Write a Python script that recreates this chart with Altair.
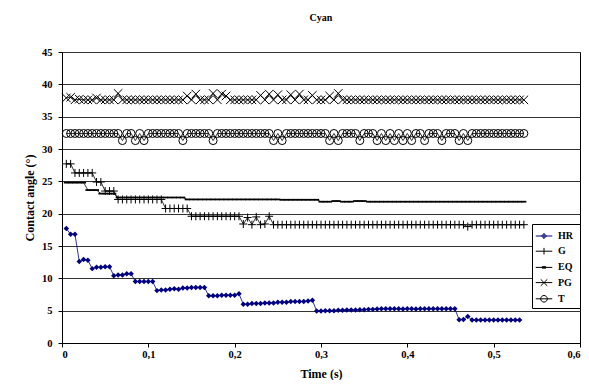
import altair as alt
import pandas as pd

SERIES = ["HR", "G", "EQ", "PG", "T"]

TIME = [
    0.005, 0.010, 0.015, 0.020, 0.025, 0.030, 0.035, 0.040, 0.045, 0.050,
    0.055, 0.060, 0.065, 0.070, 0.075, 0.080, 0.085, 0.090, 0.095, 0.100,
    0.105, 0.110, 0.115, 0.120, 0.125, 0.130, 0.135, 0.140, 0.145, 0.150,
    0.155, 0.160, 0.165, 0.170, 0.175, 0.180, 0.185, 0.190, 0.195, 0.200,
    0.205, 0.210, 0.215, 0.220, 0.225, 0.230, 0.235, 0.240, 0.245, 0.250,
    0.255, 0.260, 0.265, 0.270, 0.275, 0.280, 0.285, 0.290, 0.295, 0.300,
    0.305, 0.310, 0.315, 0.320, 0.325, 0.330, 0.335, 0.340, 0.345, 0.350,
    0.355, 0.360, 0.365, 0.370, 0.375, 0.380, 0.385, 0.390, 0.395, 0.400,
    0.405, 0.410, 0.415, 0.420, 0.425, 0.430, 0.435, 0.440, 0.445, 0.450,
    0.455, 0.460, 0.465, 0.470, 0.475, 0.480, 0.485, 0.490, 0.495, 0.500,
    0.505, 0.510, 0.515, 0.520, 0.525, 0.530, 0.535,
]

HR = [
    17.7, 16.8, 16.8, 12.6, 12.9, 12.8, 11.5, 11.7, 11.7, 11.8,
    11.8, 10.4, 10.5, 10.5, 10.7, 10.7, 9.5, 9.5, 9.5, 9.5,
    9.5, 8.1, 8.2, 8.2, 8.3, 8.4, 8.3, 8.5, 8.5, 8.6,
    8.6, 8.6, 8.6, 7.3, 7.3, 7.3, 7.4, 7.4, 7.4, 7.4,
    7.6, 6.0, 6.0, 6.1, 6.1, 6.1, 6.2, 6.2, 6.2, 6.3,
    6.3, 6.3, 6.4, 6.4, 6.4, 6.4, 6.5, 6.6, 4.95, 4.95,
    5.0, 5.0, 5.0, 5.05, 5.05, 5.1, 5.1, 5.1, 5.15, 5.15,
    5.2, 5.2, 5.25, 5.3, 5.3, 5.3, 5.3, 5.3, 5.25, 5.3,
    5.3, 5.25, 5.3, 5.3, 5.3, 5.3, 5.3, 5.3, 5.3, 5.3,
    5.3, 3.6, 3.65, 4.1, 3.55, 3.55, 3.55, 3.55, 3.55, 3.55,
    3.55, 3.55, 3.55, 3.55, 3.55, 3.55,
]

G = [
    27.7, 27.7, 26.3, 26.3, 26.3, 26.3, 26.3, 24.9, 24.9, 23.5,
    23.5, 23.5, 22.2, 22.2, 22.2, 22.2, 22.2, 22.2, 22.2, 22.2,
    22.2, 22.2, 22.2, 20.8, 20.8, 20.8, 20.8, 20.8, 20.8, 19.6,
    19.6, 19.6, 19.6, 19.6, 19.6, 19.6, 19.6, 19.6, 19.6, 19.6,
    19.6, 18.4, 19.4, 18.3, 19.5, 18.3, 18.4, 19.6, 18.3, 18.3,
    18.3, 18.3, 18.3, 18.3, 18.3, 18.3, 18.3, 18.3, 18.3, 18.3,
    18.3, 18.3, 18.3, 18.3, 18.3, 18.3, 18.3, 18.3, 18.3, 18.3,
    18.3, 18.3, 18.3, 18.3, 18.3, 18.3, 18.3, 18.3, 18.3, 18.3,
    18.3, 18.3, 18.3, 18.3, 18.3, 18.3, 18.3, 18.3, 18.3, 18.3,
    18.3, 18.3, 18.3, 18.0, 18.3, 18.3, 18.3, 18.3, 18.3, 18.3,
    18.3, 18.3, 18.3, 18.3, 18.3, 18.3, 18.3,
]

EQ = [
    24.8, 24.8, 24.8, 24.8, 24.8, 23.65, 23.65, 23.65, 23.1, 23.1,
    23.1, 23.1, 22.5, 22.5, 22.5, 22.5, 22.5, 22.5, 22.5, 22.5,
    22.5, 22.5, 22.5, 22.5, 22.5, 22.5, 22.5, 22.5, 22.2, 22.2,
    22.2, 22.2, 22.2, 22.2, 22.2, 22.2, 22.2, 22.2, 22.2, 22.2,
    22.2, 22.2, 22.2, 22.2, 22.2, 22.2, 22.2, 22.2, 22.2, 22.2,
    22.15, 22.15, 22.15, 22.15, 22.15, 22.15, 22.15, 22.15, 22.15, 21.85,
    21.85, 21.85, 21.95, 21.95, 21.85, 21.85, 21.85, 21.95, 21.95, 21.95,
    21.85, 21.85, 21.85, 21.85, 21.85, 21.85, 21.85, 21.85, 21.85, 21.85,
    21.85, 21.85, 21.85, 21.85, 21.85, 21.85, 21.85, 21.85, 21.85, 21.85,
    21.85, 21.85, 21.85, 21.85, 21.85, 21.85, 21.85, 21.85, 21.85, 21.85,
    21.85, 21.85, 21.85, 21.85, 21.85, 21.85, 21.85,
]

PG = [
    37.9, 38.0, 37.6, 37.7, 37.6, 37.6, 37.6, 37.9, 37.6, 37.6,
    37.6, 37.6, 38.6, 37.6, 37.6, 37.6, 37.6, 37.6, 37.6, 37.6,
    37.6, 37.6, 37.6, 37.6, 37.6, 37.6, 37.6, 37.6, 38.2, 37.6,
    38.5, 37.6, 37.6, 37.6, 38.6, 37.6, 38.5, 38.2, 37.6, 37.6,
    37.6, 37.6, 37.6, 37.6, 37.6, 38.3, 37.6, 38.5, 37.6, 38.4,
    37.6, 37.6, 38.4, 37.6, 38.5, 37.6, 37.6, 38.3, 37.6, 37.6,
    37.6, 38.2, 37.6, 38.6, 37.6, 37.6, 37.6, 37.6, 37.6, 37.6,
    37.6, 37.6, 37.6, 37.6, 37.6, 37.6, 37.6, 37.6, 37.6, 37.6,
    37.6, 37.6, 37.6, 37.6, 37.6, 37.6, 37.6, 37.6, 37.6, 37.6,
    37.6, 37.6, 37.6, 37.6, 37.6, 37.6, 37.6, 37.6, 37.6, 37.6,
    37.6, 37.6, 37.6, 37.6, 37.6, 37.6, 37.6,
]

T = [
    32.4, 32.4, 32.4, 32.4, 32.4, 32.4, 32.4, 32.4, 32.4, 32.4,
    32.4, 32.4, 32.4, 31.3, 32.4, 32.4, 31.3, 32.4, 31.3, 32.4,
    32.4, 32.4, 32.4, 32.4, 32.4, 32.4, 32.4, 31.3, 32.4, 32.4,
    32.4, 32.4, 32.4, 32.4, 31.3, 32.4, 32.4, 32.4, 32.4, 32.4,
    32.4, 32.4, 32.4, 32.4, 32.4, 32.4, 32.4, 32.4, 31.3, 32.4,
    31.3, 32.4, 32.4, 32.4, 32.4, 32.4, 32.4, 32.4, 32.4, 32.4,
    32.4, 31.3, 32.4, 31.3, 32.4, 32.4, 32.4, 32.4, 31.3, 32.4,
    32.4, 32.4, 31.3, 32.4, 31.3, 32.4, 31.3, 32.4, 31.3, 32.4,
    31.3, 32.4, 32.4, 31.3, 32.4, 32.4, 32.4, 31.3, 32.4, 32.4,
    32.4, 31.3, 32.4, 31.3, 32.4, 32.4, 32.4, 32.4, 32.4, 32.4,
    32.4, 32.4, 32.4, 32.4, 32.4, 32.4, 32.4,
]

X_TICKS = [0, 0.1, 0.2, 0.3, 0.4, 0.5, 0.6]
Y_TICKS = [0, 5, 10, 15, 20, 25, 30, 35, 40, 45]

NAVY = "#000080"
LINE_COLORS = [NAVY, "black", "black", "black", "black"]

MARKERS = {
    "HR": dict(shape="diamond", size=30, filled=True, color=NAVY, strokeWidth=0),
    "G": dict(shape="M-1,0L1,0M0,-1L0,1", size=64, filled=False, color="black", strokeWidth=1),
    "EQ": dict(shape="M-1,-0.35L1,-0.35L1,0.35L-1,0.35Z", size=25, filled=True, color="black", strokeWidth=0),
    "PG": dict(shape="M-1,-1L1,1M-1,1L1,-1", size=72, filled=False, color="black", strokeWidth=1),
    "T": dict(shape="circle", size=64, filled=False, color="black", strokeWidth=1),
}

LEGEND_PATHS = [
    "M-1,0L1,0M-0.3,0L0,-0.3L0.3,0L0,0.3ZM0,-0.3L0,0.3",
    "M-1,0L1,0M0,-0.4L0,0.4",
    "M-1,0L1,0M-0.25,-0.09L0.25,-0.09M-0.25,0.09L0.25,0.09",
    "M-1,0L1,0M-0.4,-0.4L0.4,0.4M-0.4,0.4L0.4,-0.4",
    "M-1,0L1,0M0.4,0A0.4,0.4,0,1,1,-0.4,0A0.4,0.4,0,1,1,0.4,0",
]

FONT = "Liberation Serif"

rows = []
for name, vals in zip(SERIES, [HR, G, EQ, PG, T]):
    for t, v in zip(TIME, vals):
        rows.append({"t": t, "v": v, "series": name})
df = pd.DataFrame(rows)

X_AXIS = alt.Axis(
    values=X_TICKS,
    labelExpr="datum.value == 0 ? '0' : replace(format(datum.value, '.1f'), '.', ',')",
    grid=False,
    title="Time (s)",
    titleY=25,
    titleBaseline="top",
    labelPadding=2,
)
Y_AXIS = alt.Axis(
    values=Y_TICKS,
    format="d",
    grid=True,
    title="Contact angle (°)",
    titleAngle=270,
    titleX=-26,
    titleY=145.5,
    titleBaseline="bottom",
    titleAlign="center",
    labelPadding=6,
)


def xy():
    return dict(
        x=alt.X("t:Q", scale=alt.Scale(domain=[0, 0.6], nice=False, zero=False), axis=X_AXIS),
        y=alt.Y("v:Q", scale=alt.Scale(domain=[0, 45], nice=False), axis=Y_AXIS),
    )


line_layers = []
point_layers = []
for name, col in zip(SERIES, LINE_COLORS):
    m = MARKERS[name]
    base = alt.Chart(df).transform_filter(alt.datum.series == name)
    line_layers.append(base.mark_line(color=col, strokeWidth=0.8).encode(**xy()))
    point_layers.append(
        base.mark_point(
            shape=m["shape"], size=m["size"], filled=m["filled"],
            color=m["color"], strokeWidth=m["strokeWidth"], opacity=1,
        ).encode(**xy())
    )

leg_props = dict(
    orient="none", legendX=470, legendY=172, direction="vertical",
    title=" ", titleOrient="right", titlePadding=4, titleFontSize=10,
    padding=3, strokeColor="black", fillColor="white",
    labelFont=FONT, labelFontWeight="bold", labelFontSize=10, labelColor="black",
    labelOffset=5, rowPadding=1.2, symbolSize=272, symbolStrokeWidth=1, symbolOpacity=1,
)
legend_layer = alt.Chart(df).mark_point(filled=False, opacity=0).encode(
    color=alt.Color("series:N", scale=alt.Scale(domain=SERIES, range=LINE_COLORS),
                    legend=alt.Legend(**leg_props)),
    shape=alt.Shape("series:N", scale=alt.Scale(domain=SERIES, range=LEGEND_PATHS),
                    legend=alt.Legend(**leg_props)),
    **xy(),
)

chart = (
    alt.layer(*line_layers, *point_layers, legend_layer)
    .properties(
        width=518,
        height=291,
        autosize=alt.AutoSizeParams(type="none"),
        padding={"left": 54, "top": 44, "right": 1, "bottom": 37},
        title=alt.TitleParams(
            text="Cyan", font=FONT, fontSize=10, fontWeight="bold", color="black",
            anchor="middle", frame="group", offset=14, baseline="bottom",
        ),
    )
    .configure_view(stroke="black", strokeWidth=1)
    .configure_axis(
        labelFont=FONT, labelFontWeight="bold", labelFontSize=10.5, labelColor="black",
        titleFont=FONT, titleFontWeight="bold", titleFontSize=12, titleColor="black",
        domainColor="black", domainWidth=1, tickColor="black", tickSize=4, tickWidth=1,
        gridColor="#333333", gridWidth=1,
    )
)

chart.save("out.html", embed_options={"renderer": "svg", "actions": False})
